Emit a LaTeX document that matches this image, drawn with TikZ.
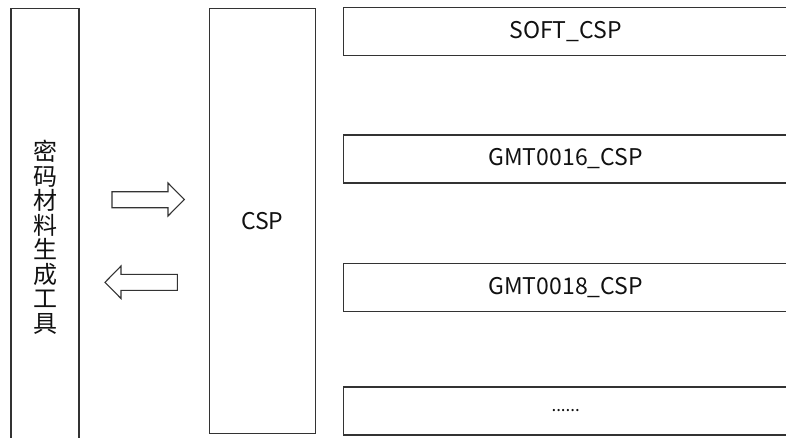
\documentclass[tikz,border=0pt]{standalone}
\usepackage{fontspec}
\setmainfont{Noto Sans CJK SC}
\definecolor{linegray}{HTML}{333333}
\definecolor{textgray}{HTML}{111111}

\begin{document}
\begin{tikzpicture}[x=1pt,y=-1pt,every node/.style={draw=linegray,rectangle,align=center,text=textgray,font=\fontsize{23}{25}\selectfont,inner sep=0pt,line width=1.1pt},blockarrow/.style={draw=linegray,line width=1.1pt,line join=miter}]
\path[use as bounding box,fill=white] (0,0) rectangle (786,437);
\node[minimum width=68pt,minimum height=458pt,font=\fontsize{24}{24.5}\selectfont] (tool) at (45,237.5) {密\\码\\材\\料\\生\\成\\工\\具};
\node[minimum width=105.7pt,minimum height=424.7pt] (csp) at (262.2,220.7) {CSP};
\node[minimum width=444.7pt,minimum height=47.7pt] (soft) at (565.7,31.2) {SOFT\_CSP};
\node[minimum width=444.7pt,minimum height=48pt] (gm16) at (565.7,159) {GMT0016\_CSP};
\node[minimum width=444.7pt,minimum height=48.7pt] (gm18) at (565.7,287.5) {GMT0018\_CSP};
\node[minimum width=444.7pt,minimum height=48pt,font=\fontsize{17}{18}\selectfont] (more) at (565.7,411) {......};
% arrows between tool and csp
\draw[blockarrow] (112,191.7) -- (168,191.7) -- (168,183) -- (184.3,199.5) -- (168,216) -- (168,207.7) -- (112,207.7) -- cycle;
\draw[blockarrow] (177.3,274.3) -- (121,274.3) -- (121,266) -- (105,282.3) -- (121,298.5) -- (121,290.3) -- (177.3,290.3) -- cycle;
\end{tikzpicture}
\end{document}
